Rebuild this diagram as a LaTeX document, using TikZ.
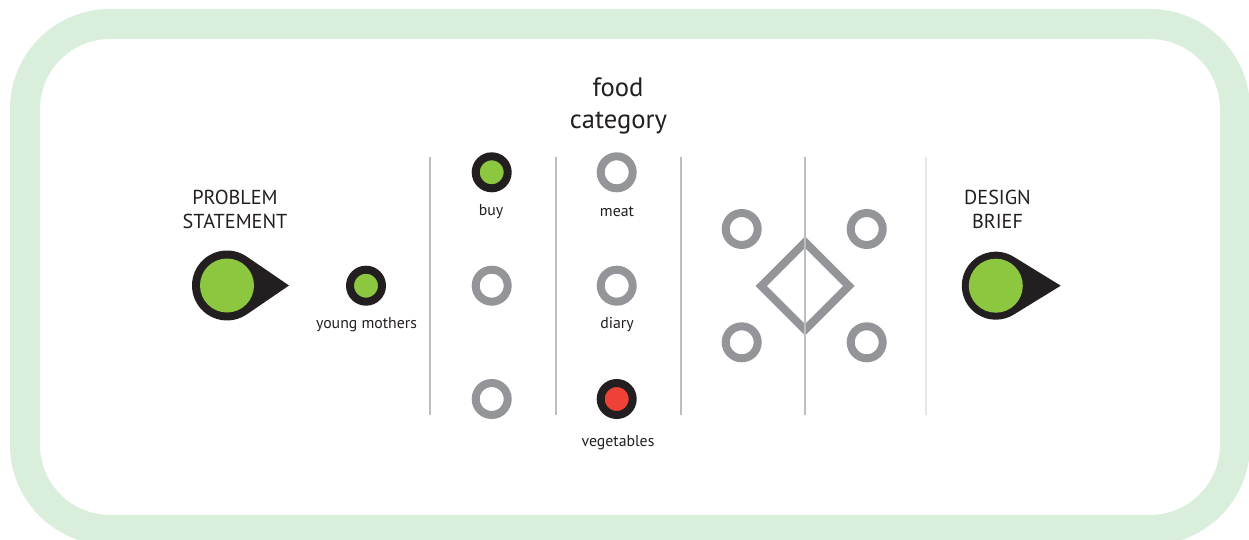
\documentclass[tikz,border=0pt]{standalone}
\usepackage{fontspec}
\setmainfont{PT Sans}
\usetikzlibrary{shapes.geometric,calc}
\definecolor{pingreen}{HTML}{8DC63F}
\definecolor{pinblack}{HTML}{231F20}
\definecolor{pinred}{HTML}{EF4136}
\definecolor{ringgray}{HTML}{939598}
\definecolor{linegray}{HTML}{BCBEC0}
\definecolor{lightline}{HTML}{E6E7E8}
\definecolor{bordergreen}{HTML}{D9EEDB}
\definecolor{txt}{HTML}{231F20}
\tikzset{
  ring/.style={circle, draw=ringgray, line width=8pt, minimum size=32pt, inner sep=0pt, fill=white},
  dotgreen/.style={circle, draw=pinblack, fill=pingreen, line width=8pt, minimum size=32pt, inner sep=0pt},
  dotred/.style={circle, draw=pinblack, fill=pinred, line width=8pt, minimum size=32pt, inner sep=0pt},
  bigdot/.style={circle, fill=pingreen, minimum size=54pt, inner sep=0pt},
  divider/.style={line width=1.6pt, draw=linegray},
  smalllabel/.style={anchor=base, text=txt, font=\fontsize{15.8}{18}\selectfont, inner sep=0pt},
  headlabel/.style={anchor=base, text=txt, font=\fontsize{20.2}{24}\selectfont, inner sep=0pt},
  biglabel/.style={anchor=base, text=txt, font=\fontsize{26.6}{30}\selectfont, inner sep=0pt},
  diamondbox/.style={diamond, aspect=1, draw=ringgray, line width=8pt, minimum size=91pt, inner sep=0pt}
}
\begin{document}
\begin{tikzpicture}[x=1pt, y=-1pt]
\useasboundingbox (0,0) rectangle (1249,540);
\clip (0,0) rectangle (1249,540);
\fill[white] (0,0) rectangle (1249,540);
% border
\draw[line width=30pt, draw=bordergreen, rounded corners=85pt] (25,24) rectangle (1235,530);

% dividers
\draw[divider] (430,157) -- (430,415);
\draw[divider] (556,157) -- (556,415);
\draw[divider] (681,157) -- (681,415);
\draw[divider] (805,157) -- (805,415);
\draw[divider, draw=lightline] (926,157) -- (926,415);

% headings
\node[headlabel] (ps1) at (235,204.3) {PROBLEM};
\node[headlabel] (ps2) at (235,228.3) {STATEMENT};
\node[headlabel] (db1) at (997.5,204.3) {DESIGN};
\node[headlabel] (db2) at (997.5,228.3) {BRIEF};
\node[biglabel] (fc1) at (618,96.7) {food};
\node[biglabel] (fc2) at (618.5,128.3) {category};

% problem statement pin
\coordinate (pc) at (227,285.5);
\coordinate (ptip) at (289,285.5);
\fill[pinblack] (ptip) -- ($(pc)+(55.6:35pt)$) arc[start angle=55.6, end angle=304.4, radius=35pt] -- cycle;
\node[bigdot] (psdot) at (pc) {};

% design brief pin
\coordinate (dc) at (995.8,285.7);
\coordinate (dtip) at (1060.7,285.7);
\fill[pinblack] (dtip) -- ($(dc)+(58.4:34pt)$) arc[start angle=58.4, end angle=301.6, radius=34pt] -- cycle;
\node[bigdot] (dbdot) at (dc) {};

% young mothers
\node[dotgreen] (ym) at (366,285.7) {};
\node[smalllabel] (ymlab) at (366.5,328.5) {young mothers};

% column 1
\node[dotgreen] (buy) at (491.7,172.3) {};
\node[smalllabel] (buylab) at (491,215.8) {buy};
\node[ring] (c1b) at (491.7,285.7) {};
\node[ring] (c1c) at (491.7,399) {};

% column 2
\node[ring] (meat) at (616.7,172.3) {};
\node[smalllabel] (meatlab) at (617,216.5) {meat};
\node[ring] (diary) at (616.7,285.7) {};
\node[smalllabel] (diarylab) at (617,328.3) {diary};
\node[dotred] (veg) at (616.7,399) {};
\node[smalllabel] (veglab) at (618,446) {vegetables};

% diamond region
\node[diamondbox] (dm) at (805,286) {};
\draw[divider] (dm.north) -- (dm.south);
\node[ring] (r1) at (741.7,229) {};
\node[ring] (r2) at (866.7,229) {};
\node[ring] (r3) at (741.7,342.3) {};
\node[ring] (r4) at (866.7,342.3) {};
\end{tikzpicture}
\end{document}
